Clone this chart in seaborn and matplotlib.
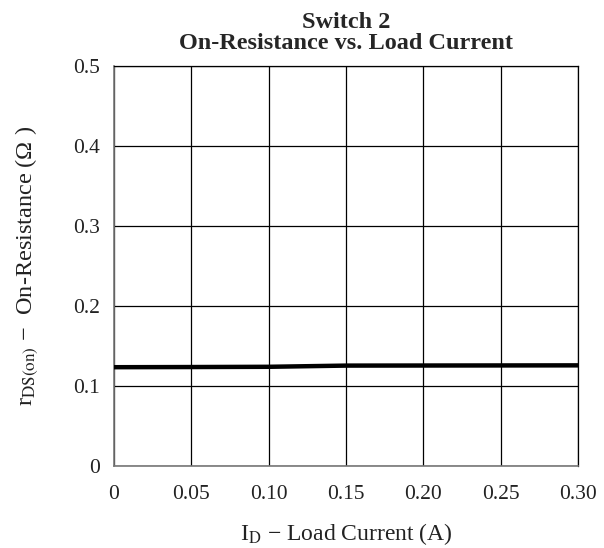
import matplotlib
matplotlib.use("Agg")
import matplotlib.pyplot as plt
import seaborn as sns
import pandas as pd

# Load current (A) and on-resistance (ohm)
current = [0.0, 0.05, 0.10, 0.15, 0.20, 0.25, 0.30]
resistance = [0.1235, 0.1237, 0.1240, 0.1255, 0.1256, 0.1257, 0.1258]

x_ticks = [0, 0.05, 0.10, 0.15, 0.20, 0.25, 0.30]
x_labels = ["0", "0.05", "0.10", "0.15", "0.20", "0.25", "0.30"]
y_ticks = [0, 0.1, 0.2, 0.3, 0.4, 0.5]
y_labels = ["0", "0.1", "0.2", "0.3", "0.4", "0.5"]

sns.set_style("white")
plt.rcParams["font.family"] = ["Liberation Serif", "DejaVu Serif"]
plt.rcParams["mathtext.fontset"] = "stix"

df = pd.DataFrame({"current": current, "resistance": resistance})

fig = plt.figure(figsize=(6.04, 5.48), dpi=100)
ax = fig.add_axes([114 / 604, 82 / 548, 464 / 604, 400 / 548])

sns.lineplot(data=df, x="current", y="resistance", color="black", linewidth=3.2, ax=ax, zorder=3)

ax.set_xlim(0, 0.30)
ax.set_ylim(0, 0.5)
ax.set_xticks(x_ticks)
ax.set_xticklabels(x_labels)
ax.set_yticks(y_ticks)
ax.set_yticklabels(y_labels)
ax.tick_params(axis="both", length=0, labelsize=15.5, colors="#222222")
ax.tick_params(axis="x", pad=14)
ax.tick_params(axis="y", pad=10)

ax.grid(True, color="black", linewidth=0.9)
for side in ["top", "right"]:
    ax.spines[side].set_color("black")
    ax.spines[side].set_linewidth(0.9)
for side in ["left", "bottom"]:
    ax.spines[side].set_color("#777777")
    ax.spines[side].set_linewidth(1.2)

ax.set_title("Switch 2\nOn-Resistance vs. Load Current", fontsize=17.5,
             fontweight="bold", pad=12, linespacing=1.0)
ax.set_xlabel("I$_{\\mathrm{D}}$ − Load Current (A)", fontsize=17, labelpad=12, color="#222222")
ax.set_ylabel("r$_{\\mathrm{DS(on)}}$ −  On-Resistance (Ω )", fontsize=17.5, labelpad=24, color="#222222")

fig.savefig("out.png", dpi=100)
